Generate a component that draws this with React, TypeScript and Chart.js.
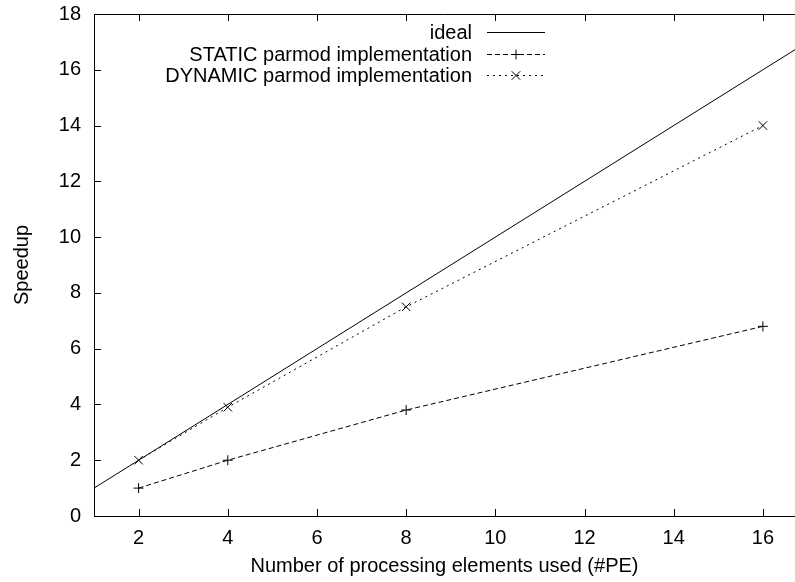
import React, { useEffect, useRef } from "react";
import { Chart, registerables } from "chart.js";

Chart.register(...registerables);

const peCounts = [2, 4, 8, 16];
const staticSpeedup = [1, 2, 3.8, 6.8];
const dynamicSpeedup = [2, 3.9, 7.5, 14];
const idealX = [1, 17];
const xTickValues = [2, 4, 6, 8, 10, 12, 14, 16];
const yTickValues = [0, 2, 4, 6, 8, 10, 12, 14, 16, 18];
const seriesLabels = ["ideal", "STATIC parmod implementation", "DYNAMIC parmod implementation"];
const xTitle = "Number of processing elements used (#PE)";
const yTitle = "Speedup";

const FONT = "'Liberation Sans', Arial, Helvetica, sans-serif";

const frameTicksPlugin = {
  id: "frameTicks",
  afterDatasetsDraw(chart: any) {
    const { ctx, chartArea, scales } = chart;
    const { left, right, top, bottom } = chartArea;
    const tl = 7;
    ctx.save();
    ctx.strokeStyle = "#000";
    ctx.lineWidth = 1;
    ctx.beginPath();
    ctx.moveTo(left, top + 0.5);
    ctx.lineTo(right, top + 0.5);
    xTickValues.forEach((v) => {
      const px = Math.round(scales.x.getPixelForValue(v)) + 0.5;
      ctx.moveTo(px, bottom);
      ctx.lineTo(px, bottom - tl);
      ctx.moveTo(px, top);
      ctx.lineTo(px, top + tl);
    });
    yTickValues.forEach((v) => {
      const py = Math.round(scales.y.getPixelForValue(v)) + 0.5;
      ctx.moveTo(left, py);
      ctx.lineTo(left + tl, py);
    });
    ctx.stroke();
    ctx.restore();
  },
};

function drawMarker(ctx: CanvasRenderingContext2D, style: string, x: number, y: number, r: number) {
  ctx.beginPath();
  if (style === "cross") {
    ctx.moveTo(x - r, y);
    ctx.lineTo(x + r, y);
    ctx.moveTo(x, y - r);
    ctx.lineTo(x, y + r);
  } else if (style === "crossRot") {
    const o = r * Math.cos(Math.PI / 4);
    ctx.moveTo(x - o, y - o);
    ctx.lineTo(x + o, y + o);
    ctx.moveTo(x - o, y + o);
    ctx.lineTo(x + o, y - o);
  }
  ctx.stroke();
}

const customLegendPlugin = {
  id: "customLegend",
  afterDraw(chart: any) {
    const { ctx, chartArea } = chart;
    const textRight = chartArea.left + 378;
    const sampleStart = textRight + 15;
    const sampleEnd = textRight + 73;
    const firstY = chartArea.top + 18;
    const rowH = 21.5;
    ctx.save();
    ctx.font = `20px ${FONT}`;
    ctx.fillStyle = "#000";
    ctx.textAlign = "right";
    ctx.textBaseline = "middle";
    chart.data.datasets.forEach((ds: any, i: number) => {
      const y = Math.round(firstY + rowH * i);
      ctx.fillText(ds.label, textRight, y + 1);
      ctx.strokeStyle = "#000";
      ctx.lineWidth = 1;
      ctx.setLineDash(ds.borderDash || []);
      ctx.beginPath();
      ctx.moveTo(sampleStart, y + 0.5);
      ctx.lineTo(sampleEnd, y + 0.5);
      ctx.stroke();
      ctx.setLineDash([]);
      if (ds.pointRadius > 0) {
        drawMarker(ctx, ds.pointStyle, (sampleStart + sampleEnd) / 2, y + 0.5, ds.pointRadius);
      }
    });
    ctx.restore();
  },
};

export default function App() {
  const canvasRef = useRef<HTMLCanvasElement | null>(null);

  useEffect(() => {
    if (!canvasRef.current) return;
    const chart = new Chart(canvasRef.current, {
      type: "line",
      data: {
        datasets: [
          {
            label: seriesLabels[0],
            data: idealX.map((x) => ({ x, y: x })),
            borderColor: "#000",
            borderWidth: 1,
            pointRadius: 0,
            fill: false,
          },
          {
            label: seriesLabels[1],
            data: peCounts.map((x, i) => ({ x, y: staticSpeedup[i] })),
            borderColor: "#000",
            borderWidth: 1,
            borderDash: [5, 3],
            pointStyle: "cross",
            pointRadius: 5,
            pointBorderWidth: 1,
            pointBorderColor: "#000",
            fill: false,
          },
          {
            label: seriesLabels[2],
            data: peCounts.map((x, i) => ({ x, y: dynamicSpeedup[i] })),
            borderColor: "#000",
            borderWidth: 1,
            borderDash: [2, 4],
            pointStyle: "crossRot",
            pointRadius: 6,
            pointBorderWidth: 1,
            pointBorderColor: "#000",
            fill: false,
          },
        ],
      },
      options: {
        animation: false,
        responsive: false,
        maintainAspectRatio: false,
        layout: { autoPadding: false, padding: { top: 14, right: 0, left: 0, bottom: 0 } },
        plugins: {
          legend: { display: false },
          tooltip: { enabled: false },
        },
        scales: {
          x: {
            type: "linear",
            min: 1,
            max: 16.72,
            grid: { display: false, drawTicks: false },
            border: { display: true, color: "#000", width: 1 },
            afterBuildTicks: (scale: any) => {
              scale.ticks = xTickValues.map((value) => ({ value }));
            },
            afterFit: (scale: any) => {
              scale.height = 66;
              scale.paddingLeft = 0;
              scale.paddingRight = 0;
            },
            ticks: {
              color: "#000",
              font: { family: FONT, size: 20 },
              padding: 10,
              maxRotation: 0,
              autoSkip: false,
            },
            title: {
              display: true,
              text: xTitle,
              color: "#000",
              font: { family: FONT, size: 20 },
              padding: { top: 0, bottom: 4 },
            },
          },
          y: {
            type: "linear",
            min: 0,
            max: 18,
            grid: { display: false, drawTicks: false },
            border: { display: true, color: "#000", width: 1 },
            afterBuildTicks: (scale: any) => {
              scale.ticks = yTickValues.map((value) => ({ value }));
            },
            afterFit: (scale: any) => {
              scale.width = 94;
              scale.paddingTop = 0;
              scale.paddingBottom = 0;
            },
            ticks: {
              color: "#000",
              font: { family: FONT, size: 20 },
              padding: 13,
              autoSkip: false,
            },
            title: {
              display: true,
              text: yTitle,
              color: "#000",
              font: { family: FONT, size: 20 },
              padding: { top: 10, bottom: 0 },
            },
          },
        },
      },
      plugins: [frameTicksPlugin, customLegendPlugin],
    } as any);
    return () => chart.destroy();
  }, []);

  return (
    <div style={{ position: "absolute", left: 0, top: 0, width: 795, height: 582, background: "#fff" }}>
      <canvas ref={canvasRef} width={795} height={582} style={{ display: "block", width: 795, height: 582 }} />
    </div>
  );
}
